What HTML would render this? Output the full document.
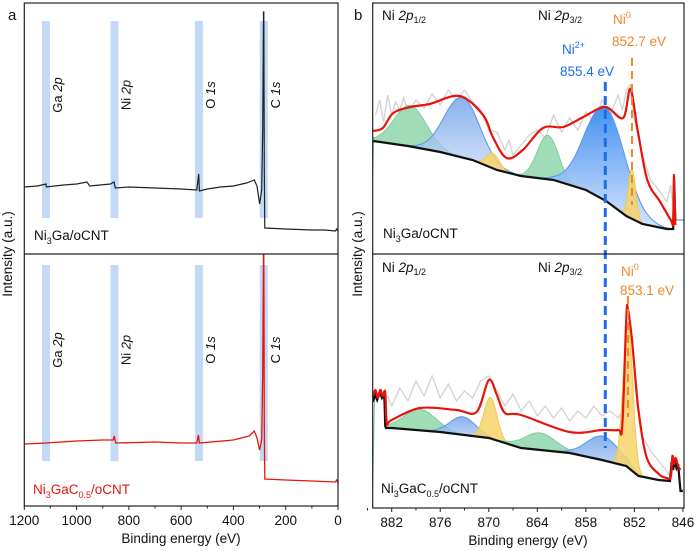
<!DOCTYPE html>
<html><head><meta charset="utf-8"><style>
html,body{margin:0;padding:0;background:#fff;}
svg{display:block;font-family:"Liberation Sans",Arial,sans-serif;}
</style></head><body>
<svg id="fig" width="700" height="551" viewBox="0 0 700 551">
<defs>
<linearGradient id="blueGrad" x1="0" y1="0" x2="0" y2="1">
<stop offset="0" stop-color="#3a8af0" stop-opacity="0.95"/><stop offset="1" stop-color="#cfe2fb" stop-opacity="0.9"/></linearGradient>
<linearGradient id="blueGrad2" x1="0" y1="0" x2="0" y2="1">
<stop offset="0" stop-color="#6c9ee8" stop-opacity="0.8"/><stop offset="1" stop-color="#cfe0f8" stop-opacity="0.8"/></linearGradient>
<clipPath id="clipATop"><rect x="24" y="3" width="314" height="251"/></clipPath>
<clipPath id="clipABot"><rect x="24" y="254" width="314" height="252"/></clipPath>
<clipPath id="clipBTop"><rect x="373" y="3" width="311" height="251"/></clipPath>
<clipPath id="clipBBot"><rect x="373" y="254" width="311" height="254"/></clipPath>
</defs>
<g id="layer"></g>
</svg>
<script>
// ---------- Panel a data (survey) ----------
const surveyTicks = [1200,1000,800,600,400,200,0];
const bandCenters = [1117,855,532,284];
const bandLabels = ["Ga 2p","Ni 2p","O 1s","C 1s"];
const surveyTopE = [1200,1150,1117,1116,1050,1000,960,950,870,857,852,800,700,600,540,533,530,500,450,400,350,320,310,300,292,288,285,284,282,280,200,100,50,10,5,0];
const surveyTopV = [63,64,66,63,65,66,68,64,66,68,62,63,62,61,60,76,59,61,63,64,67,70,64,46,60,120,238,238,80,22,21,20,20,19,21,19];
const surveyBotE = [1200,1117,1000,900,860,856,850,700,600,540,534,530,400,340,320,310,300,292,288,285,284,282,280,200,100,10,5,0];
const surveyBotV = [62,63,65,66,66,70,63,64,63,63,71,63,66,70,75,68,56,66,130,252,252,80,27,26,25,24,26,23];

// ---------- Panel b data (Ni 2p) ----------
const niTicks = [882,876,870,864,858,852,846];
// top: Ni3Ga/oCNT
const topBgE = [884.3,880,876,872,869,866,862,858,855.5,853,851,848,847.2,847.1,846.95];
const topBgV = [109,104,98,90,80,74,70,60,49,34,26,21,21,70,30];
const topCompCenter = [879.7,873.3,869.5,862.7,855.6,852.3];
const topCompHeight = [41,60,15,44,94,50];
const topCompSigma = [2.0,2.2,0.8,1.3,2.5,0.45];
const topCompType = ["green","blue","yellow","green","blue","yellow"];
const topFitE = [884.3,883.1,881.8,879.7,877.3,873.6,870.7,869.5,867.8,865.8,863.3,860.8,858.3,855.6,853.4,852.5,851.6,850.4,848.8,847.5,847.2,847.1,846.95];
const topFitV = [119,122,137,143,146,154,135,113,92,100,122,123,133,143,132,161,120,70,48,30,28,75,25];
const topRawE = [884,883.5,883,882.5,882,881.5,881,880.5,880,879,878,877,876,875,874,873,872,871,870,869,868,867.5,867,866,865,864,863,862,861,860,859,858,857,856,855,854,853.5,853,852.5,852,851,850,849,848,847.5,847.2];
const topRawV = [135,150,128,155,135,148,140,152,138,150,142,156,145,160,150,160,148,140,120,118,100,110,95,105,115,120,112,135,118,132,120,138,128,150,135,155,140,160,165,130,95,70,60,48,65,40];
// bottom: Ni3GaC0.5/oCNT
const botBgE = [884.3,884.1,883.8,883.5,883.2,882.9,882.8,882.7,882,876,870,866,860,856,853,851.5,849,847.6,847.4,847.2,847.0,846.8,846.6,846.3,846];
const botBgV = [104,112,106,114,108,112,80,78,78,74,68,58,53,46,40,30,26,25,44,36,46,38,42,15,15];
const botCompCenter = [878.5,873.2,869.8,863.7,855.9,852.8];
const botCompHeight = [21,18,41,17,24,143];
const botCompSigma = [2.0,1.6,0.8,2.0,2.0,0.6];
const botCompType = ["green","blue","yellow","green","blue","yellow"];
const botFitE = [884.3,884.0,883.7,883.4,883.1,882.8,882.6,882,878.5,874,871.5,870,869,868,866,860,856,854,853.5,853,852.8,852.3,851.5,850.5,849,848,847.5,847.3,847.1,846.9,846.6,846.3];
const botFitV = [110,116,108,116,110,114,83,86,98,96,94,126,111,93,91,74,76,76,81,188,197,166,96,49,32,28,29,50,42,48,40,36];
const botRawE = [882.5,882,881,880,879,878,877,876,875,874,873,872,871,870,869,868,867,866,865,864,863,862,861,860,859,858,857,856,855,854,853.5,853,852.8,852.3,851.5,851,850,849,848,847.6];
const botRawV = [110,100,118,105,125,110,130,108,122,105,115,108,125,130,115,100,112,95,105,90,100,88,98,85,95,88,100,90,95,88,95,195,200,170,100,70,55,45,35,30];

const NS = "http://www.w3.org/2000/svg";
const layer = document.getElementById('layer');
function mk(tag, attrs, parent){ const e=document.createElementNS(NS,tag); for(const k in attrs) e.setAttribute(k,attrs[k]); (parent||layer).appendChild(e); return e; }

// axis functions
const xa = e => 338 - e*(313.7/1200);
const xb = e => 391.7 + (882-e)*8.09;
const yTopA = v => 250 - v, yBotA = v => 506 - v;
const yTopB = v => 250 - v, yBotB = v => 506 - v;

function pathFrom(E,V,xf,yf){ return E.map((e,i)=>(i?'L':'M')+xf(e).toFixed(1)+' '+yf(V[i]).toFixed(1)).join(' '); }
function smoothPath(E,V,xf,yf){
  const p=E.map((e,i)=>[xf(e),yf(V[i])]); let d='M'+p[0][0]+' '+p[0][1];
  for(let i=0;i<p.length-1;i++){ const p0=p[i-1]||p[i],p1=p[i],p2=p[i+1],p3=p[i+2]||p2;
    const c1=[p1[0]+(p2[0]-p0[0])/6,p1[1]+(p2[1]-p0[1])/6], c2=[p2[0]-(p3[0]-p1[0])/6,p2[1]-(p3[1]-p1[1])/6];
    d+=` C${c1[0].toFixed(1)} ${c1[1].toFixed(1)} ${c2[0].toFixed(1)} ${c2[1].toFixed(1)} ${p2[0].toFixed(1)} ${p2[1].toFixed(1)}`; }
  return d; }
function interp(E,V,e){ for(let i=0;i<E.length-1;i++){ if((e<=E[i]&&e>=E[i+1])) { const t=(E[i]-e)/(E[i]-E[i+1]); return V[i]+t*(V[i+1]-V[i]); } } return V[V.length-1]; }
function txt(x,y,s,attrs){ const t=mk('text',Object.assign({x:x,y:y,'font-size':13,fill:'#111'},attrs||{})); t.innerHTML=s; return t; }

// ---------- Panel a ----------
const pa = mk('g',{});


[[21,218,'top'],[265,461,'bottom']].forEach(([y0,y1,pos],pi)=>{
  bandCenters.forEach((c,i)=>{
    const r=mk('rect',{x:xa(c)-4,y:y0,width:8,height:y1-y0,fill:'#b9d2f3',opacity:0.85},pa);
    
    
    const lx=xa(c)+16, ly=pi?350:95;
    const t=mk('text',{x:0,y:0,'font-size':13,fill:'#111','text-anchor':'middle',transform:`translate(${lx},${ly}) rotate(-90)`},pa);
    const parts=bandLabels[i].split(' ');
    t.innerHTML=parts[0]+' <tspan font-style="italic">'+parts[1]+'</tspan>';
    
    
  });
});
const sTop=mk('path',{d:pathFrom(surveyTopE,surveyTopV,xa,yTopA),fill:'none',stroke:'#222','stroke-width':1.2,'clip-path':'url(#clipATop)'},pa);


const sBot=mk('path',{d:pathFrom(surveyBotE,surveyBotV,xa,yBotA),fill:'none',stroke:'#e8140c','stroke-width':1.3,'clip-path':'url(#clipABot)'},pa);


const fa=mk('rect',{x:24.3,y:3,width:313.7,height:503,fill:'none',stroke:'#222','stroke-width':1.2},pa);


const da=mk('line',{x1:24.3,y1:254,x2:338,y2:254,stroke:'#222','stroke-width':1.2},pa);


surveyTicks.forEach(t=>{
  const tk=mk('line',{x1:xa(t),y1:506,x2:xa(t),y2:510,stroke:'#222'},pa);
  
  
  const l=txt(xa(t),525,t,{'text-anchor':'middle','font-size':13.5});
  
  
});
for(let t=1100;t>0;t-=200){ const m=mk('line',{x1:xa(t),y1:506,x2:xa(t),y2:508.5,stroke:'#222'},pa);
  
   }
let e;
e=txt(181,543,'Binding energy (eV)',{'text-anchor':'middle','font-size':13.5});  
e=txt(0,0,'Intensity (a.u.)',{'text-anchor':'middle','font-size':13.5,transform:'translate(12,254) rotate(-90)'});  
e=txt(8,20,'a',{'font-size':15});  
e=txt(34,240,'Ni<tspan font-size="9" dy="4">3</tspan><tspan dy="-4">Ga/oCNT</tspan>',{'font-size':13.5});  
e=txt(33,494,'Ni<tspan font-size="9" dy="4">3</tspan><tspan dy="-4">GaC</tspan><tspan font-size="9" dy="4">0.5</tspan><tspan dy="-4">/oCNT</tspan>',{'font-size':13.5,fill:'#e8140c'});  

// ---------- Panel b ----------
const pb = mk('g',{});


const fills={green:'#8fd6ab',yellow:'#f7d46a'};
function drawPanel(bgE,bgV,cC,cH,cS,cT,fitE,fitV,rawE,rawV,yf,clip,tag){
  const g=mk('g',{'clip-path':clip},pb);
  
  
  const raw=mk('path',{d:pathFrom(rawE,rawV,xb,yf),fill:'none',stroke:'#d2d2d2','stroke-width':1.3},g);
  
  
  cC.forEach((c,i)=>{
    const pts=[],base=[];
    for(let k=0;k<=60;k++){ const en=c-4*cS[i]+k*(8*cS[i]/60); const b=interp(bgE,bgV,en);
      const g2=cH[i]*Math.exp(-0.5*Math.pow((en-c)/cS[i],2));
      pts.push(xb(en).toFixed(1)+','+yf(b+g2).toFixed(1)); base.unshift(xb(en).toFixed(1)+','+yf(b).toFixed(1)); }
    const f=cT[i]==='blue'?(cH[i]>80?'url(#blueGrad)':'url(#blueGrad2)'):fills[cT[i]];
    const stroke=cT[i]==='blue'?'#5a97e8':(cT[i]==='green'?'#7fcc9c':'#f0c850');
    const p=mk('polygon',{points:pts.concat(base).join(' '),fill:f,'fill-opacity':cT[i]==='blue'?1:0.85,stroke:stroke,'stroke-width':1},g);
    
    
  });
  const bg=mk('path',{d:pathFrom(bgE,bgV,xb,yf),fill:'none',stroke:'#111','stroke-width':2.2},g);
  
  
  const fit=mk('path',{d:smoothPath(fitE,fitV,xb,yf),fill:'none',stroke:'#e8140c','stroke-width':2.2},g);
  
  
}
drawPanel(topBgE,topBgV,topCompCenter,topCompHeight,topCompSigma,topCompType,topFitE,topFitV,topRawE,topRawV,yTopB,'url(#clipBTop)','ni3ga');
drawPanel(botBgE,botBgV,botCompCenter,botCompHeight,botCompSigma,botCompType,botFitE,botFitV,botRawE,botRawV,yBotB,'url(#clipBBot)','ni3gac');

e=mk('line',{x1:xb(855.6),y1:82,x2:xb(855.6),y2:448,stroke:'#1a6fe6','stroke-width':3,'stroke-dasharray':'9 5'},pb);  
e=mk('line',{x1:xb(852.3),y1:58,x2:xb(852.3),y2:205,stroke:'#f0862a','stroke-width':2,'stroke-dasharray':'8 5'},pb);  
e=mk('line',{x1:xb(852.8),y1:296,x2:xb(852.8),y2:417,stroke:'#f0862a','stroke-width':2,'stroke-dasharray':'8 5'},pb);  

e=mk('rect',{x:372.7,y:3,width:311.3,height:505,fill:'none',stroke:'#222','stroke-width':1.2},pb);  
e=mk('line',{x1:372.7,y1:254,x2:684,y2:254,stroke:'#222','stroke-width':1.2},pb);  
niTicks.forEach(t=>{
  const tk=mk('line',{x1:xb(t),y1:508,x2:xb(t),y2:512,stroke:'#222'},pb);
  
  
  const l=txt(xb(t),527,t,{'text-anchor':'middle','font-size':13.5});
  
  
});
for(let t=885;t>846;t-=6){ const m=mk('line',{x1:xb(t),y1:508,x2:xb(t),y2:510.5,stroke:'#222'},pb);
  
   }
e=txt(528,545,'Binding energy (eV)',{'text-anchor':'middle','font-size':13.5});  
e=txt(0,0,'Intensity (a.u.)',{'text-anchor':'middle','font-size':13.5,transform:'translate(362,254) rotate(-90)'});  
e=txt(354,20,'b',{'font-size':15});  
const sub='<tspan font-size="9" dy="3">';
[[20,'top'],[272,'bottom']].forEach(([y,pos])=>{
  e=txt(382,y,'Ni <tspan font-style="italic">2p</tspan>'+sub+'1/2</tspan>',{'font-size':13.5});  
  e=txt(538,y,'Ni <tspan font-style="italic">2p</tspan>'+sub+'3/2</tspan>',{'font-size':13.5});  
});
e=txt(613,24,'Ni<tspan font-size="9" dy="-6">0</tspan>',{'font-size':13.5,fill:'#f0862a'});  
e=txt(612,46,'852.7 eV',{'font-size':13.5,fill:'#f0862a'});  
e=txt(562,54,'Ni<tspan font-size="9" dy="-6">2+</tspan>',{'font-size':13.5,fill:'#1a6fe6'});  
e=txt(560,76,'855.4 eV',{'font-size':13.5,fill:'#1a6fe6'});  
e=txt(621,276,'Ni<tspan font-size="9" dy="-6">0</tspan>',{'font-size':13.5,fill:'#f0862a'});  
e=txt(620,295,'853.1 eV',{'font-size':13.5,fill:'#f0862a'});  
e=txt(383,238,'Ni<tspan font-size="9" dy="4">3</tspan><tspan dy="-4">Ga/oCNT</tspan>',{'font-size':13.5});  
e=txt(381,493,'Ni<tspan font-size="9" dy="4">3</tspan><tspan dy="-4">GaC</tspan><tspan font-size="9" dy="4">0.5</tspan><tspan dy="-4">/oCNT</tspan>',{'font-size':13.5});  
</script>
</body></html>
